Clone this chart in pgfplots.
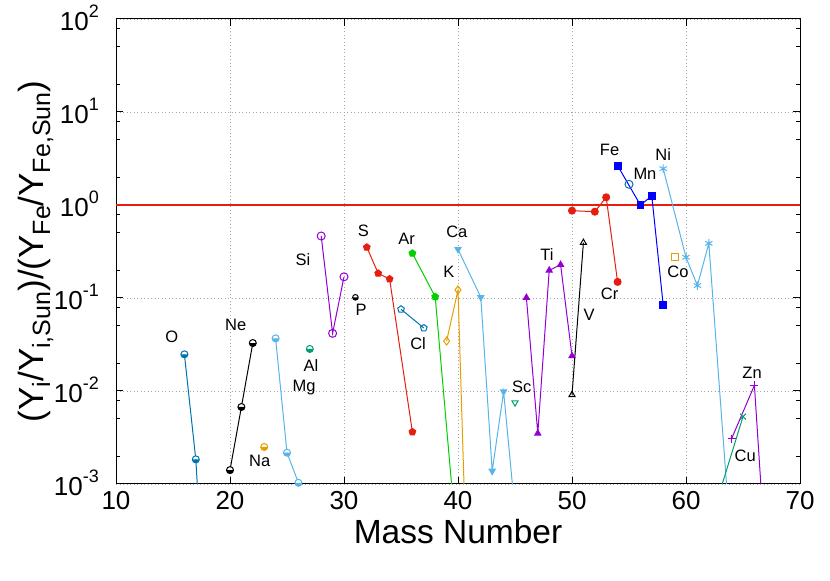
\documentclass[border=0pt]{standalone}
\usepackage{pgfplots}
\pgfplotsset{compat=1.18}
\usepackage{fontspec}
\setmainfont{Liberation Sans}

\definecolor{gpPurple}{HTML}{9400D3}
\definecolor{gpTeal}{HTML}{009E73}
\definecolor{gpSky}{HTML}{56B4E9}
\definecolor{gpOrange}{HTML}{E69F00}
\definecolor{gpBlue}{HTML}{0072B2}
\definecolor{gpRed}{HTML}{E51E10}
\definecolor{gpGreen}{HTML}{00D000}
\definecolor{gpFe}{HTML}{0000FF}

\newcommand{\sz}[1]{\fontsize{#1}{#1}\selectfont}
\newcommand{\tp}[1]{10\raisebox{13pt}{\sz{18}#1}}
\newcommand{\sub}[1]{\raisebox{-7pt}{\sz{25}#1}}

\pgfplotsset{
  iso/.style={line width=1pt, mark size=3.5pt, mark options={solid, line width=1pt}},
}

\begin{document}
\begin{tikzpicture}
\begin{axis}[
  set layers=standard,
  scale only axis, width=684pt, height=465pt,
  ymode=log, xmin=10, xmax=70, ymin=1e-3, ymax=1e2,
  xtick={10,20,...,70}, minor x tick num=0,
  xticklabels={10,20,30,40,50,60,70},
  ytick={1e-3,1e-2,1e-1,1,10,100},
  yticklabels={\tp{-3},\tp{-2},\tp{-1},\tp{0},\tp{1},\tp{2}},
  minor ytick={2e-3,5e-3,8e-3,2e-2,5e-2,8e-2,0.2,0.5,0.8,2,5,8,20,50,80},
  tick pos=both, tick align=inside,
  major tick length=7pt, minor tick length=4pt,
  grid=major,
  major grid style={draw=gray!70, dash pattern=on 1pt off 2.5pt, line width=0.6pt},
  axis line style={line width=1pt},
  every tick/.style={black, line width=1pt},
  xticklabel style={font=\sz{26}, inner sep=0pt, anchor=base, yshift=-26pt},
  yticklabel style={font=\sz{26}, inner sep=0pt, anchor=base east, xshift=-17pt, yshift=-11.7pt},
  xlabel={Mass Number},
  ylabel={(Y\sub{i}/Y\sub{i,Sun})/(Y\sub{Fe}/Y\sub{Fe,Sun})},
  xlabel style={font=\sz{33.5}, at={(axis description cs:0.5,-0.129)}, anchor=base, inner sep=0pt},
  ylabel style={font=\sz{35}, at={(axis description cs:-0.1067,0.5)}, anchor=base, inner sep=0pt},
]
% solar reference
\addplot[draw=gpRed, line width=1.1pt, no marks] coordinates {(10,1) (70,1)};

% O
\addplot[iso, gpBlue, mark=halfcircle*, mark options={fill=white, mark color=gpBlue}] coordinates {(16,0.0248) (17,0.00184) (18,1.7e-5)};
% Ne
\addplot[iso, black, mark=halfcircle*, mark options={fill=white, mark color=black}] coordinates {(20,0.00141) (21,0.00673) (22,0.0328)};
% Na
\addplot[iso, gpOrange, mark=halfcircle*, mark options={fill=white, mark color=gpOrange}] coordinates {(23,0.0025)};
% Mg
\addplot[iso, gpSky, mark=halfcircle*, mark options={fill=white, mark color=gpSky}] coordinates {(24,0.0368) (25,0.00217) (26,0.00103)};
% Al
\addplot[iso, gpTeal, mark=halfcircle*, mark options={fill=white, mark color=gpTeal}] coordinates {(27,0.0283)};
% Si
\addplot[iso, gpPurple, mark=o, mark size=4pt, mark options={fill=white}] coordinates {(28,0.464) (29,0.0417) (30,0.169)};
% P
\addplot[iso, black, mark=halfcircle*, mark size=2.8pt, mark options={fill=white, mark color=black}] coordinates {(31,0.1017)};
% S
\addplot[iso, gpRed, mark=pentagon*] coordinates {(32,0.351) (33,0.184) (34,0.16) (36,0.00363)};
% Cl
\addplot[iso, gpBlue, mark=pentagon, mark options={fill=white}] coordinates {(35,0.0757) (37,0.0476)};
% Ar
\addplot[iso, gpGreen, mark=pentagon*] coordinates {(36,0.302) (38,0.103) (40,1.6e-4)};
% K
\addplot[iso, gpOrange, mark=diamond, mark size=4pt, mark options={fill=white}] coordinates {(39,0.0345) (40,0.122) (41,1.3e-5)};
% Ca
\addplot[iso, gpSky, mark=triangle*, mark options={rotate=180}] coordinates {(40,0.334) (42,0.1017) (43,0.00138) (44,0.00984) (46,2.6e-5)};
% Sc
\addplot[iso, gpTeal, mark=triangle, mark options={rotate=180, fill=white}] coordinates {(45,0.00748)};
% Ti
\addplot[iso, gpPurple, mark=triangle*] coordinates {(46,0.1008) (47,0.0035) (48,0.198) (49,0.228) (50,0.0238)};
% V
\addplot[iso, black, mark=triangle, mark options={fill=white}] coordinates {(50,0.0091) (51,0.394)};
% Cr
\addplot[iso, gpRed, mark=*] coordinates {(50,0.869) (52,0.847) (53,1.21) (54,0.149)};
% Mn
\addplot[iso, gpBlue, mark=o, mark size=4pt, mark options={fill=white}] coordinates {(55,1.67)};
% Fe
\addplot[iso, gpFe, mark=square*, mark size=3.4pt] coordinates {(54,2.65) (56,1.0) (57,1.25) (58,0.084)};
% Co
\addplot[iso, gpOrange, mark=square, mark size=3.4pt, mark options={fill=white}] coordinates {(59,0.278)};
% Ni
\addplot[iso, gpSky, mark=asterisk, mark size=4.2pt] coordinates {(58,2.46) (60,0.274) (61,0.136) (62,0.387) (64,1.8e-4)};
% Cu
\addplot[iso, gpTeal, mark=x, mark size=4pt] coordinates {(63,8.5e-4) (65,0.0053)};
% Zn
\addplot[iso, gpPurple, mark=+, mark size=4pt] coordinates {(64,0.00307) (66,0.0115) (67,1.5e-4)};

% element names
\begin{scope}[every node/.style={font=\sz{16.5}, inner sep=0pt}]
\node at (axis cs:14.9,0.038) {O};
\node at (axis cs:20.5,0.051) {Ne};
\node at (axis cs:22.6,0.00177) {Na};
\node at (axis cs:26.5,0.011) {Mg};
\node at (axis cs:27.1,0.019) {Al};
\node at (axis cs:26.4,0.256) {Si};
\node at (axis cs:31.5,0.074) {P};
\node at (axis cs:31.7,0.53) {S};
\node at (axis cs:36.5,0.0326) {Cl};
\node at (axis cs:35.5,0.43) {Ar};
\node at (axis cs:39.2,0.19) {K};
\node at (axis cs:39.9,0.52) {Ca};
\node at (axis cs:45.6,0.0112) {Sc};
\node at (axis cs:47.8,0.29) {Ti};
\node at (axis cs:51.5,0.066) {V};
\node at (axis cs:53.3,0.112) {Cr};
\node at (axis cs:53.3,3.9) {Fe};
\node at (axis cs:56.4,2.19) {Mn};
\node at (axis cs:58.0,3.5) {Ni};
\node at (axis cs:59.3,0.19) {Co};
\node at (axis cs:65.2,0.0020) {Cu};
\node at (axis cs:65.8,0.0155) {Zn};
\end{scope}
\end{axis}
\path ([shift={(-116pt,-97pt)}]current axis.south west) rectangle ([shift={(30pt,19pt)}]current axis.north east);
\end{tikzpicture}
\end{document}
